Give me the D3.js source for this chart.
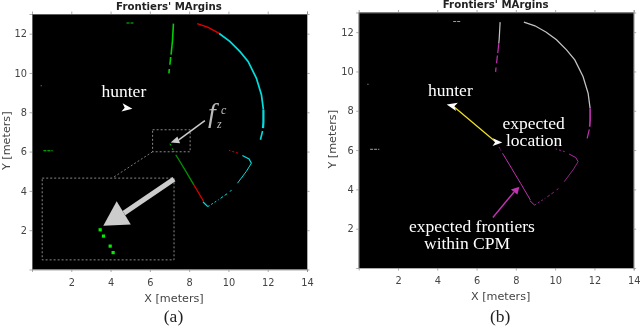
<!DOCTYPE html>
<html>
<head>
<meta charset="utf-8">
<script src="https://cdn.jsdelivr.net/npm/d3@7"></script>
<style>
	html, body { margin: 0; padding: 0; background: #fff; }
	svg { display: block; filter: blur(0.4px); }
	.tick text { font-family: "DejaVu Sans", sans-serif; font-size: 9.8px; fill: #444; }
	.tick line, .domain { stroke: #888; stroke-width: 0.7; }
	.axis__label { font-family: "DejaVu Sans", sans-serif; font-size: 11.2px; fill: #444; }
	.title { font-family: "DejaVu Sans", sans-serif; font-size: 10.2px; font-weight: bold; fill: #222; }
	.note { font-family: "Liberation Serif", serif; font-size: 17.5px; fill: #fff; }
	.caption { font-family: "Liberation Serif", serif; font-size: 17.5px; fill: #222; }
	.sym { font-family: "Liberation Serif", serif; font-style: italic; fill: #bbb; }
</style>
</head>
<body>
<svg id="fig" width="640" height="328"></svg>
<script>
const GREEN = '#00d000'
const DARKGREEN = '#009000'
const RED = '#e00000'
const CYAN = '#00dede'
const GRAY = '#c4c4c4'
const MAGENTA = '#c232b4'

const xTicks = [2, 4, 6, 8, 10, 12, 14]
const yTicks = [2, 4, 6, 8, 10, 12]

// frontier pieces, [x, y] in meters
const specTop = [[4.81, 12.54], [5.2, 12.54]]
const specLeft = [[0.58, 6.04], [1.05, 6.04]]
const specDot = [[0.44, 9.35], [0.5, 9.35]]
const wallUpper = [[7.2, 12.51], [7.15, 11.61], [7.13, 11.42]]
const wallMid = [[7.13, 11.42], [7.08, 10.93]]
const wallMid2 = [[7.06, 10.81], [7.02, 10.42]]
const wallLow = [[6.99, 10.2], [6.97, 9.98]]
const arcRed = [[8.41, 12.51], [8.97, 12.32], [9.53, 12.01]]
const arcCyan = [[9.53, 12.01], [10.07, 11.61], [10.58, 11.1], [11.0, 10.59], [11.42, 9.74], [11.68, 8.89], [11.78, 8.13]]
const arcEnd = [[11.78, 8.13], [11.78, 7.5], [11.76, 7.19]]
const arcTip = [[11.74, 7.05], [11.63, 6.6]]
const diagDots1 = [[7.02, 6.4], [7.08, 6.28]]
const diagDots2 = [[7.14, 6.16], [7.24, 5.98]]
const diagGreen = [[7.32, 5.84], [7.78, 5.08], [8.24, 4.31]]
const diagRed = [[8.24, 4.31], [8.74, 3.46]]
const cornerCyan = [[8.71, 3.43], [8.95, 3.2]]
const lowA = [[8.95, 3.2], [9.5, 3.55]]
const lowB = [[9.6, 3.62], [9.95, 3.87]]
const lowC = [[10.08, 3.96], [10.16, 4.05]]
const lowD = [[10.46, 4.39], [10.91, 4.99], [11.17, 5.41]]
const lowE = [[11.17, 5.41], [11.05, 5.62], [10.71, 5.8]]
const lowRed = [[10.49, 5.92], [10.03, 6.06]]

// which colour each piece gets in panel (a) and panel (b)
const frontiers = [
	{ pts: specTop, a: GREEN, b: GRAY, w: 1.1, dash: '3 1' },
	{ pts: specLeft, a: GREEN, b: GRAY, w: 1.1, dash: '3 1' },
	{ pts: specDot, a: GREEN, b: GRAY, w: 1 },
	{ pts: wallUpper, a: GREEN, b: GRAY, w: 1.6 },
	{ pts: wallMid, a: GREEN, b: MAGENTA, w: 1.6 },
	{ pts: wallMid2, a: GREEN, b: MAGENTA, w: 1.6 },
	{ pts: wallLow, a: GREEN, b: MAGENTA, w: 1.6 },
	{ pts: arcRed, a: RED, b: GRAY, w: 1.5 },
	{ pts: arcCyan, a: CYAN, b: GRAY, w: 1.7 },
	{ pts: arcEnd, a: CYAN, b: MAGENTA, w: 2.2 },
	{ pts: arcTip, a: CYAN, b: MAGENTA, w: 1.6 },
	{ pts: diagDots1, a: GREEN, b: MAGENTA, w: 1, dash: '2 1' },
	{ pts: diagDots2, a: GREEN, b: MAGENTA, w: 1, dash: '2 1' },
	{ pts: diagGreen, a: DARKGREEN, b: MAGENTA, w: 1.3 },
	{ pts: diagRed, a: RED, b: MAGENTA, w: 1.3 },
	{ pts: cornerCyan, a: CYAN, b: MAGENTA, w: 1.3 },
	{ pts: lowA, a: CYAN, b: MAGENTA, w: 1, dash: '2 2' },
	{ pts: lowB, a: CYAN, b: MAGENTA, w: 1, dash: '3 2' },
	{ pts: lowC, a: CYAN, b: MAGENTA, w: 1 },
	{ pts: lowD, a: CYAN, b: MAGENTA, w: 1 },
	{ pts: lowE, a: CYAN, b: MAGENTA, w: 1.2 },
	{ pts: lowRed, a: RED, b: MAGENTA, w: 1, dash: '2 2' },
]

// panel (a) annotations, meters
const zoomBox = [6.14, 8.05, 5.99, 7.11]
const insetBox = [0.52, 7.23, 0.49, 4.65]
const connector = [[6.14, 5.99], [4.13, 4.68]]
const insetPoints = [[3.47, 2.02], [3.64, 1.7], [3.98, 1.19], [4.13, 0.86]]
const insetShaft = [[7.23, 4.6], [4.68, 2.87]]
const insetHead = [[3.63, 2.23], [4.31, 3.47], [5.03, 2.29]]
const pointerShaft = [[8.8, 7.58], [7.47, 6.6]]
const pointerHead = [[7.06, 6.46], [7.4, 6.77], [7.54, 6.43]]

// panel (b) annotations, meters
const travelLine = [[6.98, 6.41], [4.85, 8.2]]
const pinkShaft = [[6.83, 2.57], [7.91, 3.87]]
const pinkHead = [[8.18, 4.14], [7.75, 3.99], [8.08, 3.74]]

const panels = [
	{ key: 'a', left: 32, top: 14, thin: 1, caption: '(a)', titleY: 9.5 },
	{ key: 'b', left: 358.7, top: 12.5, thin: 0.75, caption: '(b)', titleY: 8 },
]

const W = 275
const H = 255.5
const svg = d3.select('#fig')

function drawPanel(p) {
	const x = d3.scaleLinear().domain([0, 14]).range([0, W])
	const y = d3.scaleLinear().domain([0, 13]).range([H, 0])
	const g = svg.append('g').attr('transform', `translate(${p.left}, ${p.top})`)
	const path = d3.line().x(d => x(d[0])).y(d => y(d[1]))

	g.append('rect').attr('width', W).attr('height', H).attr('fill', '#000')

	g.append('g').attr('transform', `translate(0, ${H})`)
		.call(d3.axisBottom(x).tickValues(xTicks).tickSize(2.5).tickPadding(7).tickFormat(d3.format('d')))
	g.append('g')
		.call(d3.axisTop(x).tickValues(xTicks).tickSize(2.5).tickFormat(''))
	g.append('g')
		.call(d3.axisLeft(y).tickValues(yTicks).tickSize(2.5).tickPadding(2.5).tickFormat(d3.format('d')))
	g.append('g').attr('transform', `translate(${W}, 0)`)
		.call(d3.axisRight(y).tickValues(yTicks).tickSize(2.5).tickFormat(''))

	g.selectAll('.frontier').data(frontiers).enter().append('path')
		.attr('class', 'frontier')
		.attr('d', d => path(d.pts))
		.attr('fill', 'none')
		.attr('stroke', d => d[p.key])
		.attr('stroke-width', d => d.w * p.thin)
		.attr('stroke-dasharray', d => d.dash || null)

	g.append('text').attr('class', 'axis__label')
		.attr('x', W / 2 + 4.5).attr('y', H + 32).attr('text-anchor', 'middle').text('X [meters]')
	g.append('text').attr('class', 'axis__label')
		.attr('transform', `translate(-22.5, ${H / 2 - 1}) rotate(-90)`)
		.attr('text-anchor', 'middle').text('Y [meters]')
	g.append('text').attr('class', 'title')
		.attr('x', W / 2 - 0.5).attr('y', p.titleY - p.top).attr('text-anchor', 'middle')
		.text("Frontiers' MArgins")
	g.append('text').attr('class', 'caption')
		.attr('x', W / 2 + 4).attr('y', 322 - p.top).attr('text-anchor', 'middle').text(p.caption)

	return { g, x, y, path }
}

function notch(g, x, y, at, angle, size) {
	g.append('path')
		.attr('d', 'M1,0 L-0.75,-0.7 L-0.3,0 L-0.75,0.7 Z')
		.attr('transform', `translate(${x(at[0])}, ${y(at[1])}) rotate(${angle}) scale(${size})`)
		.attr('fill', '#fff')
}

function note(g, px, py, str, p) {
	g.append('text').attr('class', 'note').attr('x', px - p.left).attr('y', py - p.top).text(str)
}

// panel (a)
{
	const p = panels[0]
	const { g, x, y, path } = drawPanel(p)
	const boxes = [zoomBox, insetBox]
	g.selectAll('.box').data(boxes).enter().append('rect')
		.attr('class', 'box')
		.attr('x', d => x(d[0])).attr('width', d => x(d[1]) - x(d[0]))
		.attr('y', d => y(d[3])).attr('height', d => y(d[2]) - y(d[3]))
		.attr('fill', 'none').attr('stroke', '#aaa').attr('stroke-width', 0.8)
		.attr('stroke-dasharray', '2 2')
	g.append('path').attr('d', path(connector)).attr('fill', 'none')
		.attr('stroke', '#999').attr('stroke-width', 0.8).attr('stroke-dasharray', '2 2')

	g.append('path').attr('d', path(insetShaft)).attr('stroke', '#ccc').attr('stroke-width', 5)
	g.append('path').attr('d', path(insetHead) + 'Z').attr('fill', '#ccc')
	g.append('path').attr('d', path(pointerShaft)).attr('stroke', '#ccc').attr('stroke-width', 1.5)
	g.append('path').attr('d', path(pointerHead) + 'Z').attr('fill', '#ccc')

	g.selectAll('.inset-pt').data(insetPoints).enter().append('rect')
		.attr('class', 'inset-pt')
		.attr('x', d => x(d[0]) - 1.6).attr('y', d => y(d[1]) - 1.6)
		.attr('width', 3.2).attr('height', 3.2)
		.attr('fill', '#00f000')

	notch(g, x, y, [4.81, 8.22], 8, 6)
	note(g, 101.5, 97, 'hunter', p)

	g.append('text').attr('class', 'sym').attr('x', 208 - p.left).attr('y', 122 - p.top)
		.attr('font-size', 28).text('f')
	g.append('text').attr('class', 'sym').attr('x', 217 - p.left).attr('y', 128 - p.top)
		.attr('font-size', 12).text('z')
	g.append('text').attr('class', 'sym').attr('x', 221 - p.left).attr('y', 114 - p.top)
		.attr('font-size', 12).text('c')
}

// panel (b)
{
	const p = panels[1]
	const { g, x, y, path } = drawPanel(p)
	g.append('path').attr('d', path(travelLine)).attr('stroke', '#f0e020').attr('stroke-width', 1.3)
	g.append('path').attr('d', path(pinkShaft)).attr('stroke', MAGENTA).attr('stroke-width', 1.4)
	g.append('path').attr('d', path(pinkHead) + 'Z').attr('fill', MAGENTA)
	notch(g, x, y, [4.78, 8.25], 192, 6)
	notch(g, x, y, [7.03, 6.4], 2, 5.5)

	note(g, 428, 96, 'hunter', p)
	note(g, 502.5, 129, 'expected', p)
	note(g, 506, 146, 'location', p)
	note(g, 409, 231.5, 'expected frontiers', p)
	note(g, 424, 249, 'within CPM', p)
}
</script>
</body>
</html>
